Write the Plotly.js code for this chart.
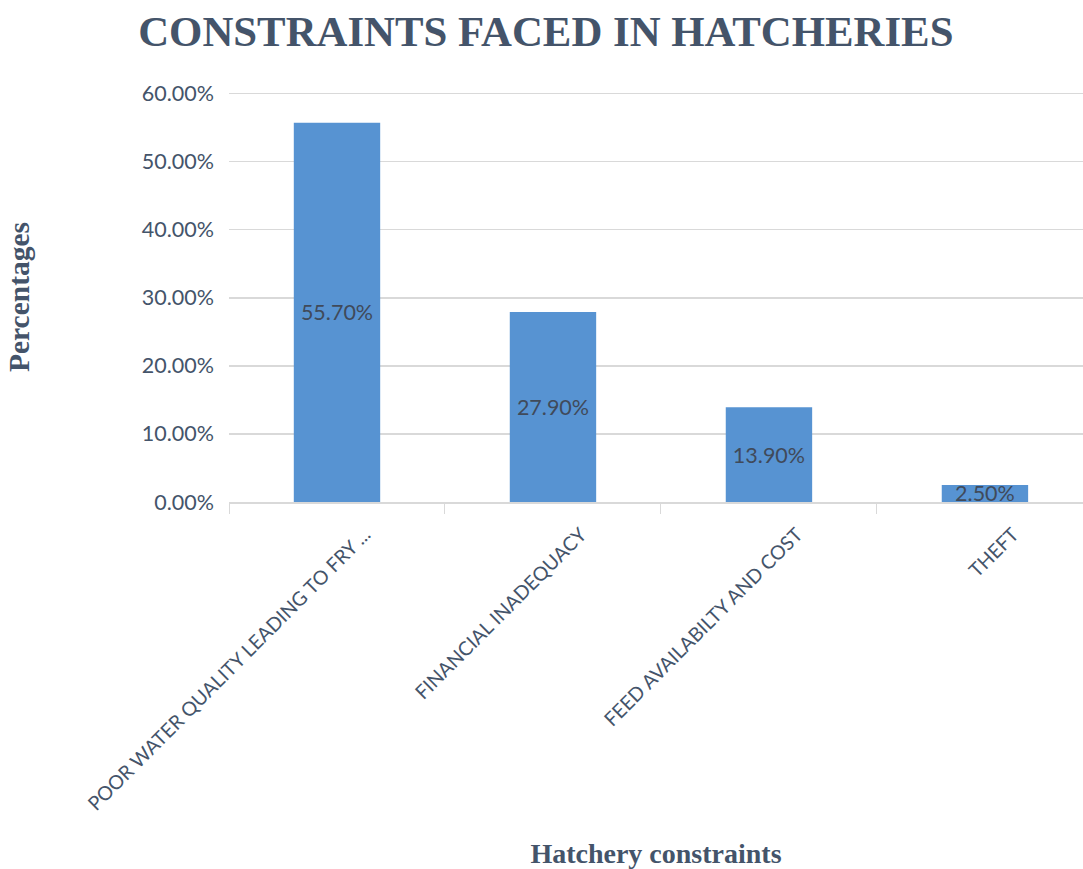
<!DOCTYPE html>
<html>
<head>
<meta charset="utf-8">
<script src="https://cdn.plot.ly/plotly-3.0.1.min.js"></script>
<style>html,body{margin:0;padding:0;background:#fff;}#chart{width:1083px;height:869px;}</style>
</head>
<body>
<div id="chart"></div>
<script>
const categories = [
  "POOR WATER QUALITY LEADING TO FRY ...",
  "FINANCIAL INADEQUACY",
  "FEED AVAILABILTY AND COST",
  "THEFT"
];
const values = [0.557, 0.279, 0.139, 0.025];
const valueLabels = ["55.70%", "27.90%", "13.90%", "2.50%"];
const yTickVals = [0, 0.1, 0.2, 0.3, 0.4, 0.5, 0.6];

const trace = {
  type: "bar",
  x: categories,
  y: values,
  text: valueLabels,
  textposition: "inside",
  insidetextanchor: "middle",
  constraintext: "none",
  textangle: 0,
  cliponaxis: false,
  textfont: {family: "Lato, 'Liberation Sans', sans-serif", size: 21.5, color: "#404a5a"},
  marker: {color: "#5793d2", line: {width: 0}},
  hoverinfo: "none"
};

const layout = {
  width: 1083,
  height: 869,
  paper_bgcolor: "#ffffff",
  plot_bgcolor: "#ffffff",
  margin: {l: 229, r: 0, t: 92, b: 367},
  bargap: 0.6,
  showlegend: false,
  title: {
    text: "<b>CONSTRAINTS FACED IN HATCHERIES</b>",
    font: {family: "'Liberation Serif', 'DejaVu Serif', serif", size: 42.8, color: "#44546a"},
    x: 0.504, xref: "container", xanchor: "center",
    y: 1 - 31/869, yref: "container", yanchor: "middle"
  },
  xaxis: {
    type: "category",
    range: [-0.5, 3.454],
    tickangle: -45,
    tickson: "boundaries",
    ticks: "outside",
    ticklen: 10,
    tickcolor: "#d9d9d9",
    showline: true,
    linecolor: "#d9d9d9",
    linewidth: 1.5,
    showgrid: false,
    zeroline: false,
    automargin: false,
    ticklabelshift: 28,
    ticklabelstandoff: 12,
    tickfont: {family: "Lato, 'Liberation Sans', sans-serif", size: 19.5, color: "#44546a"},
    title: {
      text: "<b>Hatchery constraints</b>",
      font: {family: "'Liberation Serif', 'DejaVu Serif', serif", size: 28, color: "#44546a"},
      standoff: 31
    }
  },
  yaxis: {
    range: [0, 0.6022],
    tickvals: yTickVals,
    tickformat: ".2%",
    showgrid: true,
    gridcolor: "#d9d9d9",
    gridwidth: 1.5,
    zeroline: false,
    showline: false,
    ticks: "",
    ticklabelstandoff: 14,
    automargin: false,
    tickfont: {family: "Lato, 'Liberation Sans', sans-serif", size: 21.5, color: "#44546a"},
    title: {
      text: "<b>Percentages</b>",
      font: {family: "'Liberation Serif', 'DejaVu Serif', serif", size: 29.5, color: "#44546a"},
      standoff: 103
    }
  }
};

Plotly.newPlot("chart", [trace], layout, {displayModeBar: false, staticPlot: true});
</script>
</body>
</html>
